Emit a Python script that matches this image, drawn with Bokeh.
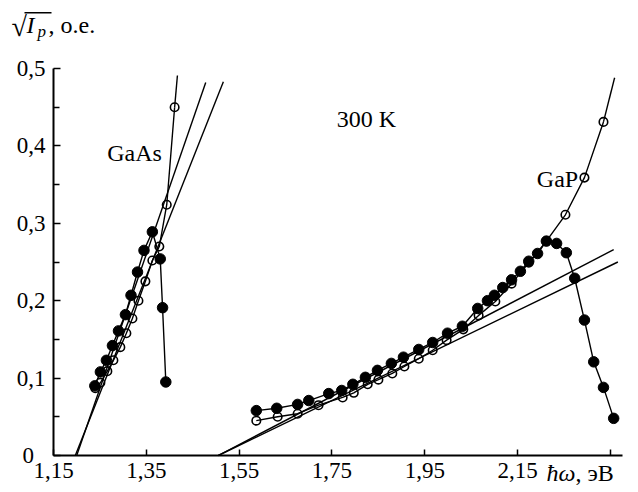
from bokeh.plotting import figure
from bokeh.models import Range1d, FixedTicker, Label, BoxAnnotation, LinearAxis
from bokeh.embed import file_html
from bokeh.resources import INLINE

# ---------------- data ----------------
x_ticks = [1.15, 1.35, 1.55, 1.75, 1.95, 2.15, 2.35]
x_tick_labels = ["1,15", "1,35", "1,55", "1,75", "1,95", "2,15", ""]
y_ticks = [0, 0.1, 0.2, 0.3, 0.4, 0.5]
y_tick_labels = ["0\u2007", "0,1", "0,2", "0,3", "0,4", "0,5"]
y_minor = [0.05, 0.15, 0.25, 0.35, 0.45]

gaas_filled_x = [1.239, 1.251, 1.264, 1.277, 1.290, 1.305, 1.317, 1.331, 1.345, 1.363, 1.380, 1.385, 1.392]
gaas_filled_y = [0.090, 0.108, 0.123, 0.142, 0.161, 0.182, 0.207, 0.237, 0.265, 0.289, 0.254, 0.191, 0.095]

gaas_open_x = [1.240, 1.251, 1.266, 1.279, 1.294, 1.307, 1.320, 1.333, 1.348, 1.363, 1.378, 1.394, 1.411]
gaas_open_y = [0.087, 0.094, 0.109, 0.123, 0.140, 0.158, 0.177, 0.200, 0.225, 0.252, 0.270, 0.324, 0.450]
gaas_open_tail_x = [1.411, 1.417]
gaas_open_tail_y = [0.450, 0.491]

gaas_fit1_x = [1.200, 1.478]
gaas_fit1_y = [0.0, 0.482]
gaas_fit2_x = [1.197, 1.516]
gaas_fit2_y = [0.0, 0.483]

gap_filled_x = [1.587, 1.631, 1.676, 1.700, 1.743, 1.771, 1.795, 1.822, 1.848, 1.878, 1.904, 1.937,
                1.967, 1.999, 2.031, 2.064, 2.085, 2.100, 2.118, 2.137, 2.156, 2.174, 2.193, 2.212,
                2.234, 2.255, 2.273, 2.294, 2.314, 2.335, 2.357]
gap_filled_y = [0.058, 0.061, 0.066, 0.071, 0.080, 0.084, 0.092, 0.101, 0.110, 0.119, 0.127, 0.137,
                0.146, 0.158, 0.167, 0.190, 0.200, 0.207, 0.217, 0.227, 0.238, 0.251, 0.261, 0.277,
                0.274, 0.262, 0.229, 0.175, 0.121, 0.088, 0.048]

gap_open_x = [1.587, 1.633, 1.676, 1.721, 1.773, 1.797, 1.827, 1.850, 1.880, 1.906, 1.937, 1.967,
              1.997, 2.033, 2.066, 2.102, 2.137, 2.174, 2.212, 2.253, 2.294, 2.335]
gap_open_y = [0.045, 0.050, 0.054, 0.065, 0.075, 0.081, 0.092, 0.098, 0.106, 0.115, 0.125, 0.136,
              0.149, 0.163, 0.181, 0.199, 0.222, 0.249, 0.277, 0.311, 0.359, 0.431]
gap_open_tail_x = [2.335, 2.359]
gap_open_tail_y = [0.431, 0.488]

gap_fit1_x = [1.505, 2.357]
gap_fit1_y = [0.0, 0.266]
gap_fit2_x = [1.505, 2.366]
gap_fit2_y = [0.0, 0.250]

# ---------------- geometry ----------------
FONT = "Liberation Serif"
W, H = 630, 490
X0, X1 = 1.15, 2.376          # axis extent
Y0, Y1 = 0.0, 0.5
AX_L, AX_R = 53, 622          # axis pixel extent in the picture
AX_B, AX_T = 455, 68
KX = (AX_R - AX_L) / (X1 - X0)
KY = (AX_B - AX_T) / (Y1 - Y0)

p = figure(width=W, height=H, output_backend="svg", toolbar_location=None,
           x_axis_type=None, y_axis_type=None,
           x_range=Range1d(X0 - AX_L / KX, X0 + (W - AX_L) / KX),
           y_range=Range1d(Y0 - (H - AX_B) / KY, Y0 + AX_B / KY),
           min_border_left=0, min_border_right=0, min_border_top=0, min_border_bottom=0)
p.outline_line_color = None
p.grid.visible = False
p.background_fill_color = "white"
p.border_fill_color = "white"

xaxis = LinearAxis(fixed_location=Y0, bounds=(X0, X1), ticker=FixedTicker(ticks=x_ticks))
yaxis = LinearAxis(fixed_location=X0, bounds=(Y0, Y1), ticker=FixedTicker(ticks=y_ticks, minor_ticks=y_minor))
p.add_layout(xaxis, "below")
p.add_layout(yaxis, "left")

for ax in (xaxis, yaxis):
    ax.axis_line_width = 2
    ax.axis_line_color = "black"
    ax.major_tick_line_width = 1.5
    ax.minor_tick_line_width = 1.5
    ax.major_tick_out = 0
    ax.minor_tick_out = 0
    ax.major_label_text_font = FONT
    ax.major_label_text_font_size = "23px"
    ax.major_label_text_color = "black"

xaxis.major_label_overrides = dict(zip(x_ticks, x_tick_labels))
xaxis.major_tick_in = 6
xaxis.minor_tick_in = 0
xaxis.major_label_standoff = 7

yaxis.major_label_overrides = dict(zip(y_ticks, y_tick_labels))
yaxis.major_tick_in = 7
yaxis.minor_tick_in = 6
yaxis.major_label_standoff = 8

# fit lines
for fx, fy in ((gaas_fit1_x, gaas_fit1_y), (gaas_fit2_x, gaas_fit2_y),
               (gap_fit1_x, gap_fit1_y), (gap_fit2_x, gap_fit2_y)):
    p.line(fx, fy, line_color="black", line_width=1.4)

# open series
for ox, oy, tx, ty in ((gaas_open_x, gaas_open_y, gaas_open_tail_x, gaas_open_tail_y),
                       (gap_open_x, gap_open_y, gap_open_tail_x, gap_open_tail_y)):
    p.line(ox, oy, line_color="black", line_width=1.4)
    p.line(tx, ty, line_color="black", line_width=1.4)
    p.scatter(ox, oy, marker="circle", size=8.5, fill_alpha=0, line_color="black", line_width=1.6)

# filled series
for fx, fy in ((gaas_filled_x, gaas_filled_y), (gap_filled_x, gap_filled_y)):
    p.line(fx, fy, line_color="black", line_width=1.4)
    p.scatter(fx, fy, marker="circle", size=10.5, fill_color="black", line_color="black", line_width=1)

# ---------------- texts ----------------
def dx(px):
    return X0 + (px - AX_L) / KX

def dy(py):
    return Y0 + (AX_B - py) / KY

def lab(text, px, py, size="24px", style="normal", align="left"):
    p.add_layout(Label(x=dx(px), y=dy(py), text=text, text_font=FONT, text_font_size=size,
                       text_font_style=style, text_align=align, text_baseline="middle",
                       text_color="black"))

lab("GaAs", 134, 152, align="center")
lab("300 K", 366, 118, align="center")
lab("GaP", 557, 178, align="center")

# y-axis title  sqrt(I_p), o.e.
lab("\u221a", 11, 26, size="28px")
lab("I", 26, 24, style="italic")
lab("p", 37, 31, size="17px", style="italic")
lab(", о.е.", 48, 24)
p.add_layout(BoxAnnotation(left=dx(24), right=dx(51), top=dy(11.5), bottom=dy(13),
                           fill_color="black", fill_alpha=1, line_alpha=0))

# x-axis title  hbar omega, eV
lab("\u0127\u03c9", 546, 472, style="italic")
lab(", эВ", 575, 472)

open("out.html", "w").write(file_html(p, INLINE))
